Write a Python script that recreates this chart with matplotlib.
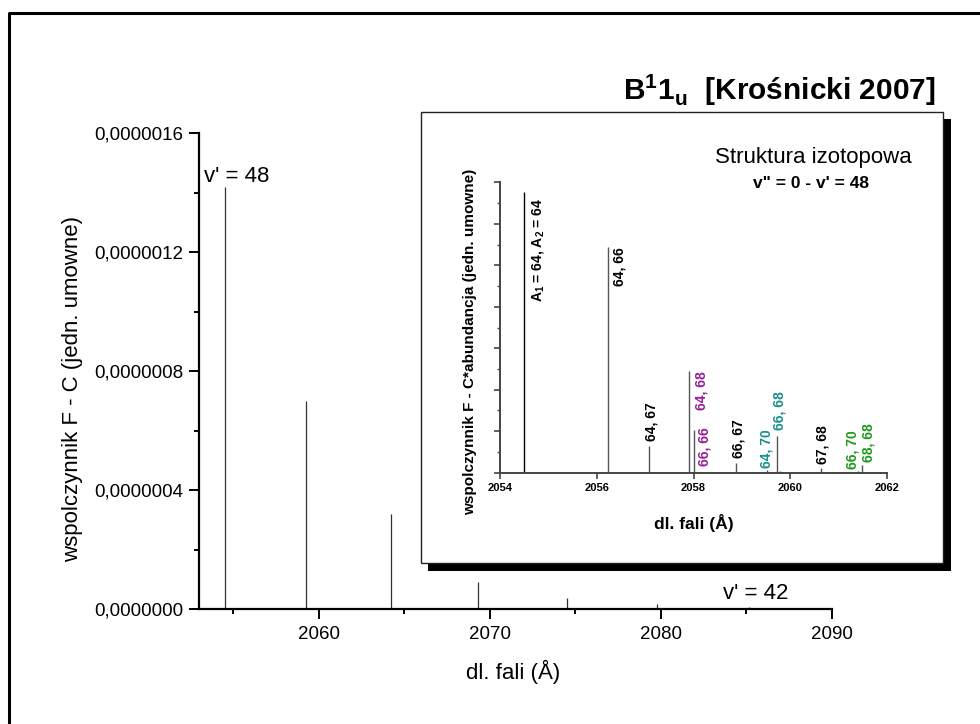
import numpy as np
import matplotlib.pyplot as plt
from matplotlib.patches import Rectangle
from matplotlib.lines import Line2D
from matplotlib.ticker import MultipleLocator, FuncFormatter, NullFormatter

plt.rcParams['font.family'] = ['Liberation Sans', 'DejaVu Sans']
plt.rcParams['mathtext.fontset'] = 'custom'
plt.rcParams['mathtext.rm'] = 'Liberation Sans'
plt.rcParams['mathtext.bf'] = 'Liberation Sans:bold'

# main progression v'' = 0 -> v' = 48 ... 42
wl_main = [2054.52, 2059.26, 2064.25, 2069.33, 2074.52, 2079.80, 2085.17]
fc_main = [1.42e-6, 0.70e-6, 0.32e-6, 0.091e-6, 0.038e-6, 0.018e-6, 0.008e-6]

# isotope structure of the v' = 48 band
wl_iso = [2054.50, 2056.23, 2057.08, 2057.91, 2058.01, 2058.88,
          2059.52, 2059.73, 2059.79, 2060.63, 2061.40, 2061.49]
ab_iso = [6.76, 5.43, 0.64, 2.45, 1.03, 0.24, 0.07, 0.88, 0.04, 0.12, 0.03, 0.19]
iso_labels = [r'A$_\mathbf{1}$ = 64, A$_\mathbf{2}$ = 64', '64, 66', '64, 67', '64, 68',
              '66, 66', '66, 67', '64, 70', '66, 68', '', '67, 68', '66, 70', '68, 68']

PURPLE = '#9a1d9a'
TEAL = '#1a8e8e'
GREEN = '#1b9a1b'
iso_colors = ['k', 'k', 'k', PURPLE, PURPLE, 'k', TEAL, TEAL, 'k', 'k', GREEN, GREEN]
# (dx px, dy px, ha, va) of each label relative to the top of its line
iso_place = [(6, -6, 'left', 'top'), (5, 0, 'left', 'top'), (3, 5, 'center', 'bottom'),
             (5, 0, 'left', 'top'), (4, 3, 'left', 'top'), (2, 5, 'center', 'bottom'),
             (-1, 2, 'center', 'bottom'), (2, 6, 'center', 'bottom'), (0, 0, 'center', 'bottom'),
             (2, 4, 'center', 'bottom'), (-5, 2, 'center', 'bottom'), (6, 3, 'center', 'bottom')]

W, H = 980, 724


def fx(x):
    return x / W


def fy(y):
    return 1 - y / H


def pt(px):
    return px * 0.72


fig = plt.figure(figsize=(9.8, 7.24), dpi=100)

# outer frame (only left and top edges are in view)
fig.add_artist(Line2D([fx(8.5), fx(8.5), fx(1000)], [fy(760), fy(13), fy(13)],
                      transform=fig.transFigure, color='k', lw=2.2))

# main chart
ax = fig.add_axes([fx(199), fy(609), fx(832) - fx(199), fy(133) - fy(609)])
ax.vlines(wl_main, 0, fc_main, color='#333333', lw=0.9)
ax.set_xlim(2053, 2090)
ax.set_ylim(0, 1.6e-6)
for s in ['top', 'right']:
    ax.spines[s].set_visible(False)
for s in ['left', 'bottom']:
    ax.spines[s].set_linewidth(1.6)
ax.xaxis.set_major_locator(MultipleLocator(10))
ax.xaxis.set_minor_locator(MultipleLocator(5))
ax.yaxis.set_major_locator(MultipleLocator(0.4e-6))
ax.yaxis.set_minor_locator(MultipleLocator(0.2e-6))
ax.yaxis.set_major_formatter(FuncFormatter(lambda v, p: f'{v:.7f}'.replace('.', ',')))
ax.tick_params(which='major', direction='out', length=7.5, width=1.4, labelsize=13.5)
ax.tick_params(which='minor', direction='out', length=3.8, width=1.4)
ax.tick_params(axis='y', pad=3.5)
ax.tick_params(axis='x', pad=5)

ax.annotate("v' = 48", xy=(wl_main[0], fc_main[0]), xytext=(pt(-21), pt(10)),
            textcoords='offset points', ha='left', va='center', fontsize=16)
ax.annotate("v' = 42", xy=(wl_main[-1], fc_main[-1]), xytext=(pt(6), pt(13)),
            textcoords='offset points', ha='center', va='center', fontsize=16)

fig.text(fx(513), fy(672), 'dl. fali (Å)', ha='center', va='center', fontsize=16)
fig.text(fx(73), fy(389), 'wspolczynnik F - C (jedn. umowne)', rotation=90,
         ha='center', va='center', fontsize=16)

fig.text(fx(936), fy(90), r'B$^\mathbf{1}$1$_\mathbf{u}$  [Krośnicki 2007]',
         ha='right', va='center', fontsize=21.5, fontweight='bold')

# inset frame with shadow
fig.add_artist(Rectangle((fx(428), fy(571)), (951 - 428) / W, (571 - 119) / H,
                         transform=fig.transFigure, facecolor='k', edgecolor='none', zorder=2))
fig.add_artist(Rectangle((fx(421), fy(563)), (943 - 421) / W, (563 - 112) / H,
                         transform=fig.transFigure, facecolor='white', edgecolor='#222222',
                         lw=1.0, zorder=2.5))

ax2 = fig.add_axes([fx(500), fy(472.7), (887 - 500) / W, (472.7 - 182.3) / H])
ax2.set_zorder(4)
ax2.patch.set_visible(False)
line_cols = ['k'] + ['#555555'] * (len(wl_iso) - 1)
ax2.vlines(wl_iso, 0, ab_iso, colors=line_cols, lw=1.0)
ax2.set_xlim(2054, 2062)
ax2.set_ylim(0, 7)
for s in ['top', 'right']:
    ax2.spines[s].set_visible(False)
for s in ['left', 'bottom']:
    ax2.spines[s].set_linewidth(1.4)
    ax2.spines[s].set_color('#444444')
ax2.xaxis.set_major_locator(MultipleLocator(2))
ax2.yaxis.set_major_locator(MultipleLocator(1))
ax2.yaxis.set_minor_locator(MultipleLocator(0.5))
ax2.yaxis.set_major_formatter(NullFormatter())
ax2.tick_params(which='major', direction='out', length=4.5, width=1.2, color='#444444',
                labelsize=8, pad=3)
ax2.tick_params(which='minor', direction='out', length=2, width=1.0, color='#444444')
for lab in ax2.get_xticklabels():
    lab.set_fontweight('bold')

for x, h, lab, col, (dx, dy, ha, va) in zip(wl_iso, ab_iso, iso_labels, iso_colors, iso_place):
    if not lab:
        continue
    ax2.annotate(lab, xy=(x, h), xytext=(pt(dx), pt(dy)), textcoords='offset points',
                 rotation=90, ha=ha, va=va, color=col, fontsize=10, fontweight='bold')

fig.text(fx(694), fy(523), 'dl. fali (Å)', ha='center', va='center', fontsize=12.5,
         fontweight='bold', zorder=5)
fig.text(fx(470), fy(342), 'wspolczynnik F - C*abundancja (jedn. umowne)', rotation=90,
         ha='center', va='center', fontsize=11, fontweight='bold', zorder=5)
fig.text(fx(912), fy(157), 'Struktura izotopowa', ha='right', va='center', fontsize=16,
         zorder=5)
fig.text(fx(869), fy(184), 'v" = 0 - v\' = 48', ha='right', va='center', fontsize=12.5,
         fontweight='bold', zorder=5)

fig.savefig('out.png', dpi=100)
